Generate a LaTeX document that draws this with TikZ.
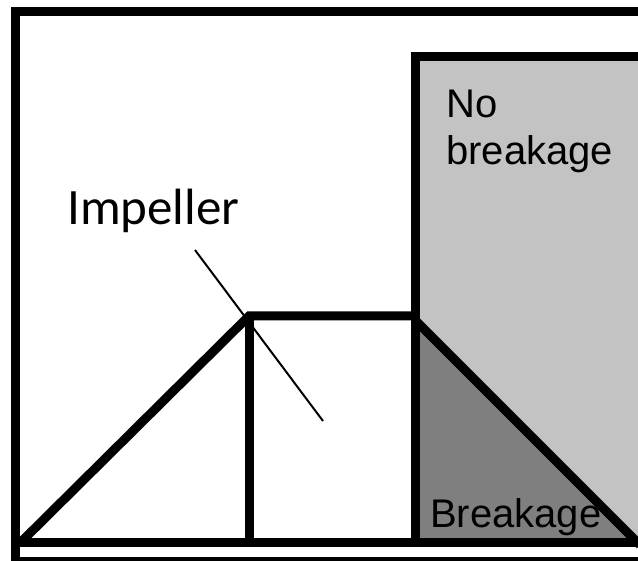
\documentclass[tikz,border=0pt]{standalone}
\usepackage{fontspec}
\setmainfont{Liberation Sans}
\newfontfamily\calib{Carlito}
\definecolor{lightg}{HTML}{C3C3C3}
\definecolor{darkg}{HTML}{7F7F7F}
\begin{document}
\begin{tikzpicture}[x=1pt,y=-1pt,
  heavy/.style={line width=9pt, line join=miter, line cap=rect},
  thinline/.style={line width=2pt},
  lbl/.style={inner sep=0pt, anchor=base west, font=\fontsize{40}{47}\selectfont}]
\useasboundingbox (0,0) rectangle (638,561);
\clip (0,0) rectangle (638,561);
% fills
\fill[lightg] (415,57) rectangle (660,543);
\fill[darkg] (415,320) -- (638,543) -- (415,543) -- cycle;
% outer frame
\draw[heavy] (15,575) -- (15,12) -- (660,12);
\draw[line width=4pt] (15,559) -- (660,559);
% bottom line
\draw[heavy, line cap=butt] (20,543) -- (660,543);
% impeller shape
\coordinate (bl) at (20,543);
\coordinate (apex) at (249,316);
\coordinate (vb) at (249,543);
\coordinate (tr) at (415,316);
\draw[heavy, line cap=butt] (bl) -- (apex) -- (tr);
\draw[heavy, line cap=butt] (apex) -- (vb);
% gray region border
\draw[heavy, line cap=butt] (415,543) -- (415,57) -- (660,57);
\draw[heavy, line cap=butt] (415,320) -- (640,545);
% labels
\node[inner sep=0pt, anchor=base west, font=\calib\fontsize{51}{61}\selectfont] (imp) at (67,225) {Impeller};
\coordinate (p1) at (195,250);
\coordinate (p2) at (323,421);
\draw[thinline] (p1) -- (p2);
\node[lbl] (nob1) at (446,118) {No};
\node[lbl] (nob2) at (446,165) {breakage};
\node[lbl] (brk) at (430,528) {Breakage};
\end{tikzpicture}
\end{document}
